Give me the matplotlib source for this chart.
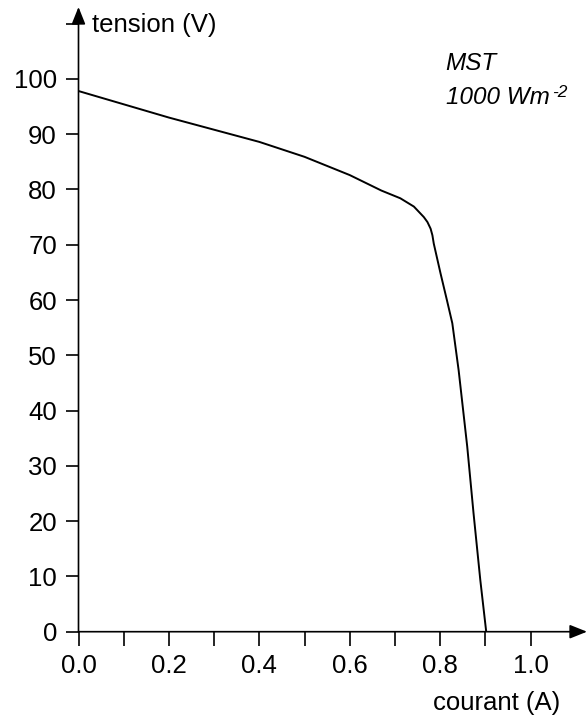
import matplotlib
matplotlib.use("Agg")
import matplotlib.pyplot as plt
import numpy as np

plt.rcParams['font.family'] = ['Liberation Sans', 'DejaVu Sans']

# I-V curve
courant = [0.0, 0.1, 0.2, 0.3, 0.4, 0.5, 0.6, 0.67, 0.712, 0.742, 0.764, 0.772,
           0.779, 0.783, 0.786, 0.801, 0.815, 0.827, 0.841, 0.86, 0.874, 0.889, 0.902]
tension = [97.8, 95.4, 93.0, 90.8, 88.6, 85.9, 82.6, 79.8, 78.4, 76.9, 75.0, 74.1,
           72.9, 71.7, 70.2, 64.8, 60.0, 55.8, 47.3, 33.5, 21.4, 9.3, 0.0]

xticks = np.round(np.arange(0, 1.01, 0.1), 1)
xlabels = ['%.1f' % v if i % 2 == 0 else '' for i, v in enumerate(xticks)]
yticks = np.arange(0, 111, 10)
ylabels = [str(v) if v <= 100 else '' for v in yticks]

fs = 18.5
fig = plt.figure(figsize=(5.88, 7.17), dpi=100)
ax = fig.add_axes([78.5/588, (717-631.7)/717, 508.5/588, 624.7/717])
ax.set_xlim(0, 1.125)
ax.set_ylim(0, 113)

ax.plot(courant, tension, color='black', lw=1.4, solid_joinstyle='round')

for s in ax.spines.values():
    s.set_visible(False)
# axes with arrow heads
arw = dict(arrowstyle='-|>,head_length=10.5,head_width=4.2', color='black',
           lw=1.2, shrinkA=0, shrinkB=0, mutation_scale=1)
ax.annotate('', xy=(1.125, 0), xytext=(0, 0), arrowprops=arw, annotation_clip=False)
ax.annotate('', xy=(0, 113), xytext=(0, 0), arrowprops=arw, annotation_clip=False)

ax.set_xticks(xticks)
ax.set_xticklabels(xlabels, fontsize=fs)
ax.set_yticks(yticks)
ax.set_yticklabels(ylabels, fontsize=fs)
ax.tick_params(axis='x', direction='out', length=10, width=1.2, pad=6)
ax.tick_params(axis='y', direction='out', length=9.5, width=1.2, pad=6)

fig.text(92/588, 1-25/717, 'tension (V)', fontsize=fs, va='center', ha='left')
fig.text(560/588, 1-703/717, 'courant (A)', fontsize=fs, va='center', ha='right')
fig.text(445/588, 1-70/717, 'MST', fontsize=17.5, style='italic', va='baseline')
irr = fig.text(446/588, 1-104/717, '1000 Wm', fontsize=17.5, style='italic',
               va='baseline')
# superscript unit exponent
ax.annotate('-2', xy=(1, 1), xycoords=irr, xytext=(1.5, 0.5),
            textcoords='offset points', fontsize=12.5, style='italic',
            va='top', ha='left', annotation_clip=False)

fig.savefig('out.png', dpi=100)
